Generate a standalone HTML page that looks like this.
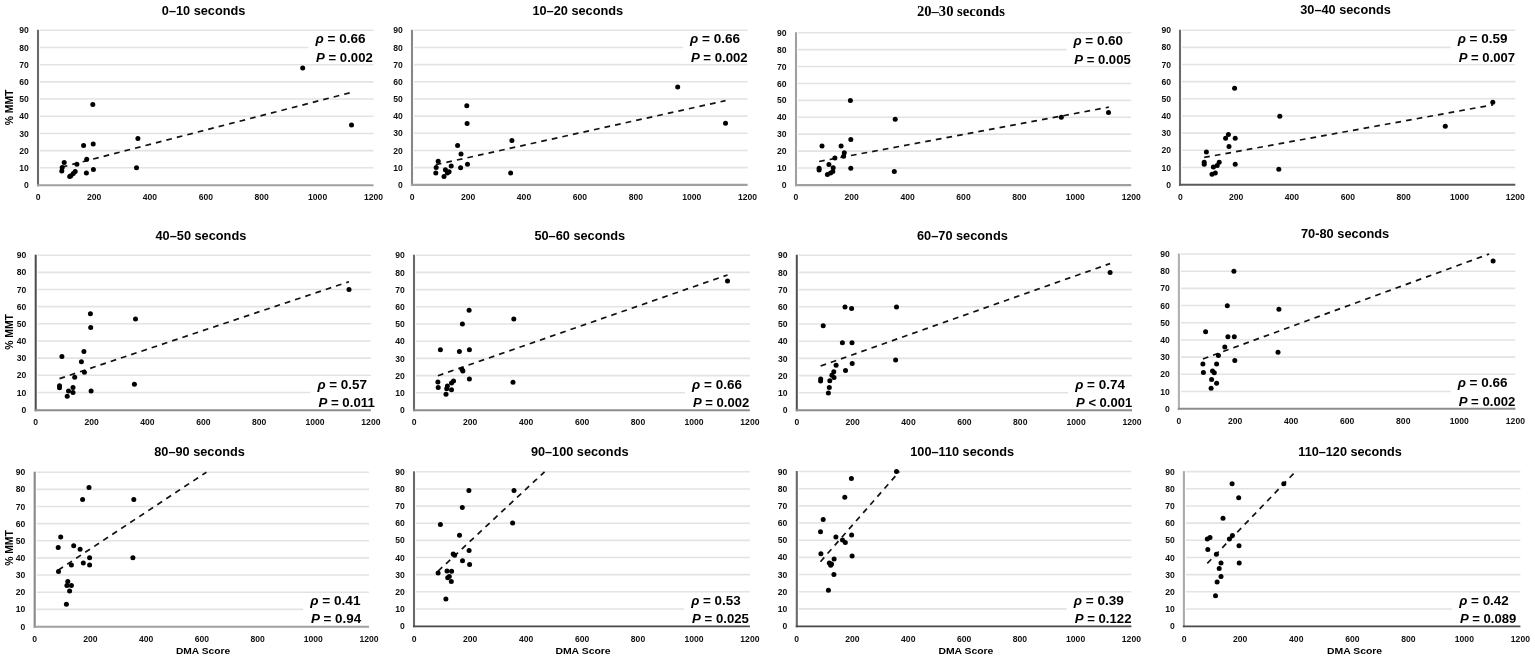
<!DOCTYPE html>
<html lang="en">
<head>
<meta charset="utf-8">
<title>% MMT vs DMA Score by 10-second interval</title>
<style>
html,body{margin:0;padding:0;background:#fff;}
body{width:1535px;height:659px;overflow:hidden;}
svg{display:block;}
text{font-family:'Liberation Sans', sans-serif;fill:#000;}
.tk{font-size:8.6px;font-weight:bold;fill:#111;}
.st{font-size:13.6px;font-weight:bold;}
.it{font-style:italic;}
.ttl{font-size:13.2px;font-weight:bold;}
.ser{font-family:'Liberation Serif', serif;font-size:14px;}
.al{font-size:10px;font-weight:bold;}
.dm{font-size:9.4px;font-weight:bold;}
circle{fill:#000;}
</style>
</head>
<body>
<svg width="1535" height="659" viewBox="0 0 1535 659">
<rect x="0" y="0" width="1535" height="659" fill="#ffffff"/>
<g><line x1="40" y1="167.81" x2="373.5" y2="167.81" stroke="#e3e3e3" stroke-width="1.6"/><line x1="40" y1="150.62" x2="373.5" y2="150.62" stroke="#e3e3e3" stroke-width="1.6"/><line x1="40" y1="133.43" x2="373.5" y2="133.43" stroke="#e3e3e3" stroke-width="1.6"/><line x1="40" y1="116.24" x2="373.5" y2="116.24" stroke="#e3e3e3" stroke-width="1.6"/><line x1="40" y1="99.06" x2="373.5" y2="99.06" stroke="#e3e3e3" stroke-width="1.6"/><line x1="40" y1="81.87" x2="373.5" y2="81.87" stroke="#e3e3e3" stroke-width="1.6"/><line x1="40" y1="64.68" x2="373.5" y2="64.68" stroke="#e3e3e3" stroke-width="1.6"/><line x1="40" y1="47.49" x2="373.5" y2="47.49" stroke="#e3e3e3" stroke-width="1.6"/><line x1="40" y1="30.3" x2="373.5" y2="30.3" stroke="#e3e3e3" stroke-width="1.6"/><rect x="308.5" y="32.7" width="66" height="31" fill="#fff"/><text x="28.9" y="188.1" text-anchor="end" class="tk">0</text><text x="28.9" y="170.91" text-anchor="end" class="tk">10</text><text x="28.9" y="153.72" text-anchor="end" class="tk">20</text><text x="28.9" y="136.53" text-anchor="end" class="tk">30</text><text x="28.9" y="119.34" text-anchor="end" class="tk">40</text><text x="28.9" y="102.16" text-anchor="end" class="tk">50</text><text x="28.9" y="84.97" text-anchor="end" class="tk">60</text><text x="28.9" y="67.78" text-anchor="end" class="tk">70</text><text x="28.9" y="50.59" text-anchor="end" class="tk">80</text><text x="28.9" y="33.4" text-anchor="end" class="tk">90</text><text x="38.2" y="200.4" text-anchor="middle" class="tk">0</text><text x="94.08" y="200.4" text-anchor="middle" class="tk">200</text><text x="149.97" y="200.4" text-anchor="middle" class="tk">400</text><text x="205.85" y="200.4" text-anchor="middle" class="tk">600</text><text x="261.73" y="200.4" text-anchor="middle" class="tk">800</text><text x="317.62" y="200.4" text-anchor="middle" class="tk">1000</text><text x="373.5" y="200.4" text-anchor="middle" class="tk">1200</text><line x1="61.8" y1="167.13" x2="351.5" y2="92.36" stroke="#111" stroke-width="1.7" stroke-dasharray="5.7 5.1"/><circle cx="92.8" cy="104.4" r="2.5"/><circle cx="137.9" cy="138.5" r="2.5"/><circle cx="136.5" cy="167.8" r="2.5"/><circle cx="93.2" cy="144" r="2.5"/><circle cx="83.6" cy="145.5" r="2.5"/><circle cx="86.7" cy="159.2" r="2.5"/><circle cx="76.9" cy="164.3" r="2.5"/><circle cx="64.2" cy="162.5" r="2.5"/><circle cx="62.2" cy="167.4" r="2.5"/><circle cx="61.8" cy="171.1" r="2.5"/><circle cx="93.4" cy="169.5" r="2.5"/><circle cx="86.4" cy="172.9" r="2.5"/><circle cx="75.2" cy="171.4" r="2.5"/><circle cx="73.3" cy="173.6" r="2.5"/><circle cx="70.9" cy="175.7" r="2.5"/><circle cx="69.7" cy="176.5" r="2.5"/><circle cx="302.7" cy="67.9" r="2.5"/><circle cx="351.5" cy="124.9" r="2.5"/><line x1="38" y1="29.8" x2="38" y2="186.25" stroke="#6a6a6a" stroke-width="2.1"/><line x1="36.95" y1="185.2" x2="373.5" y2="185.2" stroke="#a0a0a0" stroke-width="2.1"/><text x="315.5" y="43.2" class="st" textLength="50.1" lengthAdjust="spacingAndGlyphs"><tspan class="it">ρ</tspan> = 0.66</text><text x="316.1" y="61.7" class="st" textLength="56.7" lengthAdjust="spacingAndGlyphs"><tspan class="it">P</tspan> = 0.002</text><text x="161.8" y="14.5" class="ttl" textLength="83.6" lengthAdjust="spacingAndGlyphs">0–10 seconds</text><text transform="translate(13.4 125.2) rotate(-90)" class="al" textLength="35.5" lengthAdjust="spacingAndGlyphs">% MMT</text></g>
<g><line x1="414" y1="167.63" x2="747.6" y2="167.63" stroke="#e3e3e3" stroke-width="1.6"/><line x1="414" y1="150.47" x2="747.6" y2="150.47" stroke="#e3e3e3" stroke-width="1.6"/><line x1="414" y1="133.3" x2="747.6" y2="133.3" stroke="#e3e3e3" stroke-width="1.6"/><line x1="414" y1="116.13" x2="747.6" y2="116.13" stroke="#e3e3e3" stroke-width="1.6"/><line x1="414" y1="98.97" x2="747.6" y2="98.97" stroke="#e3e3e3" stroke-width="1.6"/><line x1="414" y1="81.8" x2="747.6" y2="81.8" stroke="#e3e3e3" stroke-width="1.6"/><line x1="414" y1="64.63" x2="747.6" y2="64.63" stroke="#e3e3e3" stroke-width="1.6"/><line x1="414" y1="47.47" x2="747.6" y2="47.47" stroke="#e3e3e3" stroke-width="1.6"/><line x1="414" y1="30.3" x2="747.6" y2="30.3" stroke="#e3e3e3" stroke-width="1.6"/><rect x="683" y="32.7" width="65.6" height="31" fill="#fff"/><text x="402.9" y="187.9" text-anchor="end" class="tk">0</text><text x="402.9" y="170.73" text-anchor="end" class="tk">10</text><text x="402.9" y="153.57" text-anchor="end" class="tk">20</text><text x="402.9" y="136.4" text-anchor="end" class="tk">30</text><text x="402.9" y="119.23" text-anchor="end" class="tk">40</text><text x="402.9" y="102.07" text-anchor="end" class="tk">50</text><text x="402.9" y="84.9" text-anchor="end" class="tk">60</text><text x="402.9" y="67.73" text-anchor="end" class="tk">70</text><text x="402.9" y="50.57" text-anchor="end" class="tk">80</text><text x="402.9" y="33.4" text-anchor="end" class="tk">90</text><text x="412.2" y="200.2" text-anchor="middle" class="tk">0</text><text x="468.1" y="200.2" text-anchor="middle" class="tk">200</text><text x="524" y="200.2" text-anchor="middle" class="tk">400</text><text x="579.9" y="200.2" text-anchor="middle" class="tk">600</text><text x="635.8" y="200.2" text-anchor="middle" class="tk">800</text><text x="691.7" y="200.2" text-anchor="middle" class="tk">1000</text><text x="747.6" y="200.2" text-anchor="middle" class="tk">1200</text><line x1="435.8" y1="164.7" x2="725.5" y2="100.67" stroke="#111" stroke-width="1.7" stroke-dasharray="5.7 5.1"/><circle cx="466.8" cy="105.8" r="2.5"/><circle cx="467.1" cy="123.4" r="2.5"/><circle cx="511.9" cy="140.6" r="2.5"/><circle cx="510.6" cy="173.1" r="2.5"/><circle cx="457.6" cy="145.6" r="2.5"/><circle cx="461" cy="154.1" r="2.5"/><circle cx="467.5" cy="164.3" r="2.5"/><circle cx="460.6" cy="167.8" r="2.5"/><circle cx="451.2" cy="166.1" r="2.5"/><circle cx="438.2" cy="161.2" r="2.5"/><circle cx="436.2" cy="167.5" r="2.5"/><circle cx="435.8" cy="173" r="2.5"/><circle cx="445.4" cy="169.7" r="2.5"/><circle cx="449.1" cy="171.8" r="2.5"/><circle cx="447.3" cy="172.9" r="2.5"/><circle cx="444" cy="176.6" r="2.5"/><circle cx="677.7" cy="87" r="2.5"/><circle cx="725.5" cy="123.3" r="2.5"/><line x1="412" y1="29.8" x2="412" y2="185.95" stroke="#888888" stroke-width="2.1"/><line x1="410.95" y1="184.9" x2="747.6" y2="184.9" stroke="#a0a0a0" stroke-width="2.1"/><text x="690" y="43.2" class="st" textLength="50.1" lengthAdjust="spacingAndGlyphs"><tspan class="it">ρ</tspan> = 0.66</text><text x="690.9" y="61.7" class="st" textLength="56.8" lengthAdjust="spacingAndGlyphs"><tspan class="it">P</tspan> = 0.002</text><text x="532.4" y="14.7" class="ttl" textLength="90.8" lengthAdjust="spacingAndGlyphs">10–20 seconds</text></g>
<g><line x1="798" y1="167.99" x2="1131.2" y2="167.99" stroke="#e3e3e3" stroke-width="1.6"/><line x1="798" y1="151.08" x2="1131.2" y2="151.08" stroke="#e3e3e3" stroke-width="1.6"/><line x1="798" y1="134.17" x2="1131.2" y2="134.17" stroke="#e3e3e3" stroke-width="1.6"/><line x1="798" y1="117.26" x2="1131.2" y2="117.26" stroke="#e3e3e3" stroke-width="1.6"/><line x1="798" y1="100.34" x2="1131.2" y2="100.34" stroke="#e3e3e3" stroke-width="1.6"/><line x1="798" y1="83.43" x2="1131.2" y2="83.43" stroke="#e3e3e3" stroke-width="1.6"/><line x1="798" y1="66.52" x2="1131.2" y2="66.52" stroke="#e3e3e3" stroke-width="1.6"/><line x1="798" y1="49.61" x2="1131.2" y2="49.61" stroke="#e3e3e3" stroke-width="1.6"/><line x1="798" y1="32.7" x2="1131.2" y2="32.7" stroke="#e3e3e3" stroke-width="1.6"/><rect x="1066.4" y="34.5" width="65.8" height="31.1" fill="#fff"/><text x="786.5" y="188" text-anchor="end" class="tk">0</text><text x="786.5" y="171.09" text-anchor="end" class="tk">10</text><text x="786.5" y="154.18" text-anchor="end" class="tk">20</text><text x="786.5" y="137.27" text-anchor="end" class="tk">30</text><text x="786.5" y="120.36" text-anchor="end" class="tk">40</text><text x="786.5" y="103.44" text-anchor="end" class="tk">50</text><text x="786.5" y="86.53" text-anchor="end" class="tk">60</text><text x="786.5" y="69.62" text-anchor="end" class="tk">70</text><text x="786.5" y="52.71" text-anchor="end" class="tk">80</text><text x="786.5" y="35.8" text-anchor="end" class="tk">90</text><text x="795.8" y="200.3" text-anchor="middle" class="tk">0</text><text x="851.7" y="200.3" text-anchor="middle" class="tk">200</text><text x="907.6" y="200.3" text-anchor="middle" class="tk">400</text><text x="963.5" y="200.3" text-anchor="middle" class="tk">600</text><text x="1019.4" y="200.3" text-anchor="middle" class="tk">800</text><text x="1075.3" y="200.3" text-anchor="middle" class="tk">1000</text><text x="1131.2" y="200.3" text-anchor="middle" class="tk">1200</text><line x1="819.1" y1="161.5" x2="1108.84" y2="107.17" stroke="#111" stroke-width="1.7" stroke-dasharray="5.7 5.1"/><circle cx="850.4" cy="100.5" r="2.5"/><circle cx="895.2" cy="119.2" r="2.5"/><circle cx="850.8" cy="139.4" r="2.5"/><circle cx="822" cy="146" r="2.5"/><circle cx="841.1" cy="146" r="2.5"/><circle cx="844.3" cy="152.7" r="2.5"/><circle cx="843.6" cy="156.3" r="2.5"/><circle cx="834.9" cy="157.9" r="2.5"/><circle cx="828.9" cy="164.5" r="2.5"/><circle cx="819.1" cy="168.2" r="2.5"/><circle cx="819.1" cy="170" r="2.5"/><circle cx="833.2" cy="167.8" r="2.5"/><circle cx="832.8" cy="171.4" r="2.5"/><circle cx="850.8" cy="168.2" r="2.5"/><circle cx="894.3" cy="171.4" r="2.5"/><circle cx="830.6" cy="172.9" r="2.5"/><circle cx="827.4" cy="174.6" r="2.5"/><circle cx="1061.3" cy="117.3" r="2.5"/><circle cx="1108.5" cy="112.5" r="2.5"/><line x1="796" y1="32.2" x2="796" y2="186.15" stroke="#a0a0a0" stroke-width="2.1"/><line x1="794.95" y1="185.1" x2="1131.2" y2="185.1" stroke="#a0a0a0" stroke-width="2.1"/><text x="1073.4" y="45" class="st" textLength="49.7" lengthAdjust="spacingAndGlyphs"><tspan class="it">ρ</tspan> = 0.60</text><text x="1074.3" y="63.6" class="st" textLength="56.4" lengthAdjust="spacingAndGlyphs"><tspan class="it">P</tspan> = 0.005</text><text x="917" y="16.2" class="ttl ser" textLength="87.9" lengthAdjust="spacingAndGlyphs">20–30 seconds</text></g>
<g><line x1="1182" y1="167.44" x2="1515.3" y2="167.44" stroke="#e3e3e3" stroke-width="1.6"/><line x1="1182" y1="150.29" x2="1515.3" y2="150.29" stroke="#e3e3e3" stroke-width="1.6"/><line x1="1182" y1="133.13" x2="1515.3" y2="133.13" stroke="#e3e3e3" stroke-width="1.6"/><line x1="1182" y1="115.98" x2="1515.3" y2="115.98" stroke="#e3e3e3" stroke-width="1.6"/><line x1="1182" y1="98.82" x2="1515.3" y2="98.82" stroke="#e3e3e3" stroke-width="1.6"/><line x1="1182" y1="81.67" x2="1515.3" y2="81.67" stroke="#e3e3e3" stroke-width="1.6"/><line x1="1182" y1="64.51" x2="1515.3" y2="64.51" stroke="#e3e3e3" stroke-width="1.6"/><line x1="1182" y1="47.36" x2="1515.3" y2="47.36" stroke="#e3e3e3" stroke-width="1.6"/><line x1="1182" y1="30.2" x2="1515.3" y2="30.2" stroke="#e3e3e3" stroke-width="1.6"/><rect x="1450.7" y="32.8" width="65.6" height="31" fill="#fff"/><text x="1171" y="187.7" text-anchor="end" class="tk">0</text><text x="1171" y="170.54" text-anchor="end" class="tk">10</text><text x="1171" y="153.39" text-anchor="end" class="tk">20</text><text x="1171" y="136.23" text-anchor="end" class="tk">30</text><text x="1171" y="119.08" text-anchor="end" class="tk">40</text><text x="1171" y="101.92" text-anchor="end" class="tk">50</text><text x="1171" y="84.77" text-anchor="end" class="tk">60</text><text x="1171" y="67.61" text-anchor="end" class="tk">70</text><text x="1171" y="50.46" text-anchor="end" class="tk">80</text><text x="1171" y="33.3" text-anchor="end" class="tk">90</text><text x="1180.3" y="200" text-anchor="middle" class="tk">0</text><text x="1236.13" y="200" text-anchor="middle" class="tk">200</text><text x="1291.97" y="200" text-anchor="middle" class="tk">400</text><text x="1347.8" y="200" text-anchor="middle" class="tk">600</text><text x="1403.63" y="200" text-anchor="middle" class="tk">800</text><text x="1459.47" y="200" text-anchor="middle" class="tk">1000</text><text x="1515.3" y="200" text-anchor="middle" class="tk">1200</text><line x1="1204.2" y1="157.45" x2="1492.97" y2="104.82" stroke="#111" stroke-width="1.7" stroke-dasharray="5.7 5.1"/><circle cx="1279.8" cy="116.2" r="2.5"/><circle cx="1228.4" cy="134.6" r="2.5"/><circle cx="1225.6" cy="138.3" r="2.5"/><circle cx="1235.2" cy="138.3" r="2.5"/><circle cx="1229" cy="146.6" r="2.5"/><circle cx="1206.4" cy="152" r="2.5"/><circle cx="1204.2" cy="162.3" r="2.5"/><circle cx="1204.2" cy="164.2" r="2.5"/><circle cx="1219.2" cy="162.3" r="2.5"/><circle cx="1217.2" cy="165.6" r="2.5"/><circle cx="1213.4" cy="167.1" r="2.5"/><circle cx="1215.3" cy="172.9" r="2.5"/><circle cx="1212" cy="174.3" r="2.5"/><circle cx="1235.2" cy="164.2" r="2.5"/><circle cx="1278.8" cy="169.2" r="2.5"/><circle cx="1234.6" cy="88.3" r="2.5"/><circle cx="1445.3" cy="126.2" r="2.5"/><circle cx="1492.8" cy="102.3" r="2.5"/><line x1="1180" y1="29.7" x2="1180" y2="185.8" stroke="#6a6a6a" stroke-width="2.1"/><line x1="1178.95" y1="184.8" x2="1515.3" y2="184.8" stroke="#5a5a5a" stroke-width="2.0"/><text x="1457.7" y="43.3" class="st" textLength="49.8" lengthAdjust="spacingAndGlyphs"><tspan class="it">ρ</tspan> = 0.59</text><text x="1458.7" y="61.8" class="st" textLength="56.4" lengthAdjust="spacingAndGlyphs"><tspan class="it">P</tspan> = 0.007</text><text x="1300.3" y="14.1" class="ttl" textLength="90.5" lengthAdjust="spacingAndGlyphs">30–40 seconds</text></g>
<g><line x1="37.7" y1="392.44" x2="370.9" y2="392.44" stroke="#e3e3e3" stroke-width="1.6"/><line x1="37.7" y1="375.29" x2="370.9" y2="375.29" stroke="#e3e3e3" stroke-width="1.6"/><line x1="37.7" y1="358.13" x2="370.9" y2="358.13" stroke="#e3e3e3" stroke-width="1.6"/><line x1="37.7" y1="340.98" x2="370.9" y2="340.98" stroke="#e3e3e3" stroke-width="1.6"/><line x1="37.7" y1="323.82" x2="370.9" y2="323.82" stroke="#e3e3e3" stroke-width="1.6"/><line x1="37.7" y1="306.67" x2="370.9" y2="306.67" stroke="#e3e3e3" stroke-width="1.6"/><line x1="37.7" y1="289.51" x2="370.9" y2="289.51" stroke="#e3e3e3" stroke-width="1.6"/><line x1="37.7" y1="272.36" x2="370.9" y2="272.36" stroke="#e3e3e3" stroke-width="1.6"/><line x1="37.7" y1="255.2" x2="370.9" y2="255.2" stroke="#e3e3e3" stroke-width="1.6"/><rect x="310.4" y="378.3" width="61.5" height="30.8" fill="#fff"/><text x="26.4" y="412.7" text-anchor="end" class="tk">0</text><text x="26.4" y="395.54" text-anchor="end" class="tk">10</text><text x="26.4" y="378.39" text-anchor="end" class="tk">20</text><text x="26.4" y="361.23" text-anchor="end" class="tk">30</text><text x="26.4" y="344.08" text-anchor="end" class="tk">40</text><text x="26.4" y="326.92" text-anchor="end" class="tk">50</text><text x="26.4" y="309.77" text-anchor="end" class="tk">60</text><text x="26.4" y="292.61" text-anchor="end" class="tk">70</text><text x="26.4" y="275.46" text-anchor="end" class="tk">80</text><text x="26.4" y="258.3" text-anchor="end" class="tk">90</text><text x="35.7" y="425" text-anchor="middle" class="tk">0</text><text x="91.57" y="425" text-anchor="middle" class="tk">200</text><text x="147.43" y="425" text-anchor="middle" class="tk">400</text><text x="203.3" y="425" text-anchor="middle" class="tk">600</text><text x="259.17" y="425" text-anchor="middle" class="tk">800</text><text x="315.03" y="425" text-anchor="middle" class="tk">1000</text><text x="370.9" y="425" text-anchor="middle" class="tk">1200</text><line x1="59.5" y1="378.63" x2="349" y2="281.7" stroke="#111" stroke-width="1.7" stroke-dasharray="5.7 5.1"/><circle cx="90.4" cy="313.7" r="2.5"/><circle cx="90.7" cy="327.4" r="2.5"/><circle cx="135.5" cy="318.9" r="2.5"/><circle cx="83.9" cy="351.6" r="2.5"/><circle cx="61.9" cy="356.6" r="2.5"/><circle cx="81.4" cy="361.7" r="2.5"/><circle cx="84.4" cy="372.3" r="2.5"/><circle cx="74.7" cy="377.3" r="2.5"/><circle cx="134.4" cy="384.3" r="2.5"/><circle cx="59.5" cy="385.8" r="2.5"/><circle cx="59.5" cy="387.8" r="2.5"/><circle cx="73" cy="387.4" r="2.5"/><circle cx="68.5" cy="390.9" r="2.5"/><circle cx="73" cy="392.6" r="2.5"/><circle cx="91.1" cy="390.9" r="2.5"/><circle cx="67.2" cy="396.3" r="2.5"/><circle cx="349" cy="289.6" r="2.5"/><line x1="35.7" y1="254.7" x2="35.7" y2="411.2" stroke="#4a4a4a" stroke-width="2.0"/><line x1="34.7" y1="410.2" x2="370.9" y2="410.2" stroke="#8c8c8c" stroke-width="2.0"/><text x="317.4" y="388.8" class="st" textLength="49.5" lengthAdjust="spacingAndGlyphs"><tspan class="it">ρ</tspan> = 0.57</text><text x="318.4" y="407.1" class="st" textLength="56.4" lengthAdjust="spacingAndGlyphs"><tspan class="it">P</tspan> = 0.011</text><text x="155.5" y="239.6" class="ttl" textLength="90.8" lengthAdjust="spacingAndGlyphs">40–50 seconds</text><text transform="translate(13.4 349.7) rotate(-90)" class="al" textLength="35.5" lengthAdjust="spacingAndGlyphs">% MMT</text></g>
<g><line x1="416" y1="392.8" x2="749.9" y2="392.8" stroke="#e3e3e3" stroke-width="1.6"/><line x1="416" y1="375.6" x2="749.9" y2="375.6" stroke="#e3e3e3" stroke-width="1.6"/><line x1="416" y1="358.4" x2="749.9" y2="358.4" stroke="#e3e3e3" stroke-width="1.6"/><line x1="416" y1="341.2" x2="749.9" y2="341.2" stroke="#e3e3e3" stroke-width="1.6"/><line x1="416" y1="324" x2="749.9" y2="324" stroke="#e3e3e3" stroke-width="1.6"/><line x1="416" y1="306.8" x2="749.9" y2="306.8" stroke="#e3e3e3" stroke-width="1.6"/><line x1="416" y1="289.6" x2="749.9" y2="289.6" stroke="#e3e3e3" stroke-width="1.6"/><line x1="416" y1="272.4" x2="749.9" y2="272.4" stroke="#e3e3e3" stroke-width="1.6"/><line x1="416" y1="255.2" x2="749.9" y2="255.2" stroke="#e3e3e3" stroke-width="1.6"/><rect x="685.1" y="378.3" width="65.8" height="30.9" fill="#fff"/><text x="404.9" y="413.1" text-anchor="end" class="tk">0</text><text x="404.9" y="395.9" text-anchor="end" class="tk">10</text><text x="404.9" y="378.7" text-anchor="end" class="tk">20</text><text x="404.9" y="361.5" text-anchor="end" class="tk">30</text><text x="404.9" y="344.3" text-anchor="end" class="tk">40</text><text x="404.9" y="327.1" text-anchor="end" class="tk">50</text><text x="404.9" y="309.9" text-anchor="end" class="tk">60</text><text x="404.9" y="292.7" text-anchor="end" class="tk">70</text><text x="404.9" y="275.5" text-anchor="end" class="tk">80</text><text x="404.9" y="258.3" text-anchor="end" class="tk">90</text><text x="414.2" y="425.4" text-anchor="middle" class="tk">0</text><text x="470.15" y="425.4" text-anchor="middle" class="tk">200</text><text x="526.1" y="425.4" text-anchor="middle" class="tk">400</text><text x="582.05" y="425.4" text-anchor="middle" class="tk">600</text><text x="638" y="425.4" text-anchor="middle" class="tk">800</text><text x="693.95" y="425.4" text-anchor="middle" class="tk">1000</text><text x="749.9" y="425.4" text-anchor="middle" class="tk">1200</text><line x1="437.9" y1="375.7" x2="727.52" y2="274.93" stroke="#111" stroke-width="1.7" stroke-dasharray="5.7 5.1"/><circle cx="469.1" cy="310.3" r="2.5"/><circle cx="462.4" cy="324" r="2.5"/><circle cx="513.8" cy="318.9" r="2.5"/><circle cx="440.4" cy="349.7" r="2.5"/><circle cx="459.4" cy="351.6" r="2.5"/><circle cx="469.4" cy="349.7" r="2.5"/><circle cx="461.9" cy="369.2" r="2.5"/><circle cx="462.9" cy="370.9" r="2.5"/><circle cx="469.4" cy="378.9" r="2.5"/><circle cx="437.9" cy="382.1" r="2.5"/><circle cx="438.2" cy="387.4" r="2.5"/><circle cx="513" cy="382.3" r="2.5"/><circle cx="453.5" cy="380.9" r="2.5"/><circle cx="451.5" cy="382.9" r="2.5"/><circle cx="447.4" cy="385.9" r="2.5"/><circle cx="446.7" cy="388.8" r="2.5"/><circle cx="451.5" cy="389.8" r="2.5"/><circle cx="446" cy="394.3" r="2.5"/><circle cx="727.5" cy="281" r="2.5"/><line x1="414" y1="254.7" x2="414" y2="411.2" stroke="#6a6a6a" stroke-width="2.1"/><line x1="412.95" y1="410.2" x2="749.9" y2="410.2" stroke="#8c8c8c" stroke-width="2.0"/><text x="692.1" y="388.8" class="st" textLength="49.8" lengthAdjust="spacingAndGlyphs"><tspan class="it">ρ</tspan> = 0.66</text><text x="693" y="407.2" class="st" textLength="56.2" lengthAdjust="spacingAndGlyphs"><tspan class="it">P</tspan> = 0.002</text><text x="534.4" y="239.6" class="ttl" textLength="90.8" lengthAdjust="spacingAndGlyphs">50–60 seconds</text></g>
<g><line x1="798.8" y1="392.8" x2="1132" y2="392.8" stroke="#e3e3e3" stroke-width="1.6"/><line x1="798.8" y1="375.6" x2="1132" y2="375.6" stroke="#e3e3e3" stroke-width="1.6"/><line x1="798.8" y1="358.4" x2="1132" y2="358.4" stroke="#e3e3e3" stroke-width="1.6"/><line x1="798.8" y1="341.2" x2="1132" y2="341.2" stroke="#e3e3e3" stroke-width="1.6"/><line x1="798.8" y1="324" x2="1132" y2="324" stroke="#e3e3e3" stroke-width="1.6"/><line x1="798.8" y1="306.8" x2="1132" y2="306.8" stroke="#e3e3e3" stroke-width="1.6"/><line x1="798.8" y1="289.6" x2="1132" y2="289.6" stroke="#e3e3e3" stroke-width="1.6"/><line x1="798.8" y1="272.4" x2="1132" y2="272.4" stroke="#e3e3e3" stroke-width="1.6"/><line x1="798.8" y1="255.2" x2="1132" y2="255.2" stroke="#e3e3e3" stroke-width="1.6"/><rect x="1068.2" y="378.3" width="64.8" height="30.7" fill="#fff"/><text x="787.5" y="413.1" text-anchor="end" class="tk">0</text><text x="787.5" y="395.9" text-anchor="end" class="tk">10</text><text x="787.5" y="378.7" text-anchor="end" class="tk">20</text><text x="787.5" y="361.5" text-anchor="end" class="tk">30</text><text x="787.5" y="344.3" text-anchor="end" class="tk">40</text><text x="787.5" y="327.1" text-anchor="end" class="tk">50</text><text x="787.5" y="309.9" text-anchor="end" class="tk">60</text><text x="787.5" y="292.7" text-anchor="end" class="tk">70</text><text x="787.5" y="275.5" text-anchor="end" class="tk">80</text><text x="787.5" y="258.3" text-anchor="end" class="tk">90</text><text x="796.8" y="425.4" text-anchor="middle" class="tk">0</text><text x="852.67" y="425.4" text-anchor="middle" class="tk">200</text><text x="908.53" y="425.4" text-anchor="middle" class="tk">400</text><text x="964.4" y="425.4" text-anchor="middle" class="tk">600</text><text x="1020.27" y="425.4" text-anchor="middle" class="tk">800</text><text x="1076.13" y="425.4" text-anchor="middle" class="tk">1000</text><text x="1132" y="425.4" text-anchor="middle" class="tk">1200</text><line x1="820.6" y1="366.05" x2="1110.1" y2="263.59" stroke="#111" stroke-width="1.7" stroke-dasharray="5.7 5.1"/><circle cx="845" cy="306.9" r="2.5"/><circle cx="851.6" cy="308.4" r="2.5"/><circle cx="896.5" cy="306.9" r="2.5"/><circle cx="823.2" cy="325.7" r="2.5"/><circle cx="842.4" cy="342.8" r="2.5"/><circle cx="852" cy="342.8" r="2.5"/><circle cx="895.6" cy="359.9" r="2.5"/><circle cx="852.2" cy="363.6" r="2.5"/><circle cx="836.1" cy="365.3" r="2.5"/><circle cx="845.5" cy="370.6" r="2.5"/><circle cx="833.8" cy="371.8" r="2.5"/><circle cx="831.9" cy="375.3" r="2.5"/><circle cx="834" cy="377.4" r="2.5"/><circle cx="820.7" cy="379.1" r="2.5"/><circle cx="820.6" cy="380.9" r="2.5"/><circle cx="829.8" cy="380.7" r="2.5"/><circle cx="829.3" cy="387.5" r="2.5"/><circle cx="828.4" cy="392.9" r="2.5"/><circle cx="1110.1" cy="272.4" r="2.5"/><line x1="796.8" y1="254.7" x2="796.8" y2="411.2" stroke="#505050" stroke-width="2.0"/><line x1="795.8" y1="410.2" x2="1132" y2="410.2" stroke="#8c8c8c" stroke-width="2.0"/><text x="1075.2" y="388.8" class="st" textLength="49.7" lengthAdjust="spacingAndGlyphs"><tspan class="it">ρ</tspan> = 0.74</text><text x="1076.1" y="407" class="st" textLength="56.1" lengthAdjust="spacingAndGlyphs"><tspan class="it">P</tspan> < 0.001</text><text x="917" y="239.6" class="ttl" textLength="90.8" lengthAdjust="spacingAndGlyphs">60–70 seconds</text></g>
<g><line x1="1180.9" y1="391.51" x2="1515.4" y2="391.51" stroke="#e3e3e3" stroke-width="1.6"/><line x1="1180.9" y1="374.32" x2="1515.4" y2="374.32" stroke="#e3e3e3" stroke-width="1.6"/><line x1="1180.9" y1="357.13" x2="1515.4" y2="357.13" stroke="#e3e3e3" stroke-width="1.6"/><line x1="1180.9" y1="339.94" x2="1515.4" y2="339.94" stroke="#e3e3e3" stroke-width="1.6"/><line x1="1180.9" y1="322.76" x2="1515.4" y2="322.76" stroke="#e3e3e3" stroke-width="1.6"/><line x1="1180.9" y1="305.57" x2="1515.4" y2="305.57" stroke="#e3e3e3" stroke-width="1.6"/><line x1="1180.9" y1="288.38" x2="1515.4" y2="288.38" stroke="#e3e3e3" stroke-width="1.6"/><line x1="1180.9" y1="271.19" x2="1515.4" y2="271.19" stroke="#e3e3e3" stroke-width="1.6"/><line x1="1180.9" y1="254" x2="1515.4" y2="254" stroke="#e3e3e3" stroke-width="1.6"/><rect x="1450.7" y="376.5" width="65.7" height="31" fill="#fff"/><text x="1169.7" y="411.8" text-anchor="end" class="tk">0</text><text x="1169.7" y="394.61" text-anchor="end" class="tk">10</text><text x="1169.7" y="377.42" text-anchor="end" class="tk">20</text><text x="1169.7" y="360.23" text-anchor="end" class="tk">30</text><text x="1169.7" y="343.04" text-anchor="end" class="tk">40</text><text x="1169.7" y="325.86" text-anchor="end" class="tk">50</text><text x="1169.7" y="308.67" text-anchor="end" class="tk">60</text><text x="1169.7" y="291.48" text-anchor="end" class="tk">70</text><text x="1169.7" y="274.29" text-anchor="end" class="tk">80</text><text x="1169.7" y="257.1" text-anchor="end" class="tk">90</text><text x="1179" y="424.1" text-anchor="middle" class="tk">0</text><text x="1235.07" y="424.1" text-anchor="middle" class="tk">200</text><text x="1291.13" y="424.1" text-anchor="middle" class="tk">400</text><text x="1347.2" y="424.1" text-anchor="middle" class="tk">600</text><text x="1403.27" y="424.1" text-anchor="middle" class="tk">800</text><text x="1459.33" y="424.1" text-anchor="middle" class="tk">1000</text><text x="1515.4" y="424.1" text-anchor="middle" class="tk">1200</text><line x1="1202.9" y1="358.97" x2="1489.15" y2="254" stroke="#111" stroke-width="1.7" stroke-dasharray="5.7 5.1"/><circle cx="1233.9" cy="271.2" r="2.5"/><circle cx="1227.3" cy="305.8" r="2.5"/><circle cx="1278.9" cy="309.2" r="2.5"/><circle cx="1205.6" cy="331.7" r="2.5"/><circle cx="1227.9" cy="336.7" r="2.5"/><circle cx="1234.3" cy="336.7" r="2.5"/><circle cx="1224.8" cy="347" r="2.5"/><circle cx="1278" cy="352.2" r="2.5"/><circle cx="1218.4" cy="355.4" r="2.5"/><circle cx="1234.8" cy="360.6" r="2.5"/><circle cx="1202.9" cy="364" r="2.5"/><circle cx="1216.6" cy="364" r="2.5"/><circle cx="1203.4" cy="372.5" r="2.5"/><circle cx="1212.5" cy="371.1" r="2.5"/><circle cx="1214.3" cy="372.7" r="2.5"/><circle cx="1211.6" cy="379.5" r="2.5"/><circle cx="1216.6" cy="383.2" r="2.5"/><circle cx="1211.1" cy="388.2" r="2.5"/><circle cx="1493.1" cy="260.9" r="2.5"/><line x1="1178.9" y1="253.5" x2="1178.9" y2="409.8" stroke="#b0b0b0" stroke-width="2.1"/><line x1="1177.85" y1="408.8" x2="1515.4" y2="408.8" stroke="#8c8c8c" stroke-width="2.0"/><text x="1457.7" y="387" class="st" textLength="49.8" lengthAdjust="spacingAndGlyphs"><tspan class="it">ρ</tspan> = 0.66</text><text x="1458.7" y="405.5" class="st" textLength="56.6" lengthAdjust="spacingAndGlyphs"><tspan class="it">P</tspan> = 0.002</text><text x="1301" y="237.9" class="ttl" textLength="88.2" lengthAdjust="spacingAndGlyphs">70-80 seconds</text></g>
<g><line x1="36.7" y1="609.36" x2="369" y2="609.36" stroke="#e3e3e3" stroke-width="1.6"/><line x1="36.7" y1="592.21" x2="369" y2="592.21" stroke="#e3e3e3" stroke-width="1.6"/><line x1="36.7" y1="575.07" x2="369" y2="575.07" stroke="#e3e3e3" stroke-width="1.6"/><line x1="36.7" y1="557.92" x2="369" y2="557.92" stroke="#e3e3e3" stroke-width="1.6"/><line x1="36.7" y1="540.78" x2="369" y2="540.78" stroke="#e3e3e3" stroke-width="1.6"/><line x1="36.7" y1="523.63" x2="369" y2="523.63" stroke="#e3e3e3" stroke-width="1.6"/><line x1="36.7" y1="506.49" x2="369" y2="506.49" stroke="#e3e3e3" stroke-width="1.6"/><line x1="36.7" y1="489.34" x2="369" y2="489.34" stroke="#e3e3e3" stroke-width="1.6"/><line x1="36.7" y1="472.2" x2="369" y2="472.2" stroke="#e3e3e3" stroke-width="1.6"/><rect x="303.2" y="594.8" width="66.8" height="30.3" fill="#fff"/><text x="25.4" y="629.6" text-anchor="end" class="tk">0</text><text x="25.4" y="612.46" text-anchor="end" class="tk">10</text><text x="25.4" y="595.31" text-anchor="end" class="tk">20</text><text x="25.4" y="578.17" text-anchor="end" class="tk">30</text><text x="25.4" y="561.02" text-anchor="end" class="tk">40</text><text x="25.4" y="543.88" text-anchor="end" class="tk">50</text><text x="25.4" y="526.73" text-anchor="end" class="tk">60</text><text x="25.4" y="509.59" text-anchor="end" class="tk">70</text><text x="25.4" y="492.44" text-anchor="end" class="tk">80</text><text x="25.4" y="475.3" text-anchor="end" class="tk">90</text><text x="34.7" y="641.9" text-anchor="middle" class="tk">0</text><text x="90.42" y="641.9" text-anchor="middle" class="tk">200</text><text x="146.13" y="641.9" text-anchor="middle" class="tk">400</text><text x="201.85" y="641.9" text-anchor="middle" class="tk">600</text><text x="257.57" y="641.9" text-anchor="middle" class="tk">800</text><text x="313.28" y="641.9" text-anchor="middle" class="tk">1000</text><text x="369" y="641.9" text-anchor="middle" class="tk">1200</text><line x1="58.2" y1="570.2" x2="206.4" y2="472.2" stroke="#111" stroke-width="1.7" stroke-dasharray="5.7 5.1"/><circle cx="89" cy="487.5" r="2.5"/><circle cx="82.6" cy="499.4" r="2.5"/><circle cx="133.8" cy="499.4" r="2.5"/><circle cx="60.7" cy="536.9" r="2.5"/><circle cx="58.2" cy="547.6" r="2.5"/><circle cx="73.7" cy="545.8" r="2.5"/><circle cx="80.1" cy="549.2" r="2.5"/><circle cx="89.6" cy="557.7" r="2.5"/><circle cx="132.9" cy="557.7" r="2.5"/><circle cx="83.3" cy="563.1" r="2.5"/><circle cx="89.6" cy="564.9" r="2.5"/><circle cx="71.4" cy="564.9" r="2.5"/><circle cx="58.5" cy="571.5" r="2.5"/><circle cx="67.8" cy="581.6" r="2.5"/><circle cx="66.9" cy="585.4" r="2.5"/><circle cx="71.4" cy="585.4" r="2.5"/><circle cx="69.6" cy="590.9" r="2.5"/><circle cx="66.4" cy="604.3" r="2.5"/><line x1="34.7" y1="471.7" x2="34.7" y2="627.85" stroke="#888888" stroke-width="2.1"/><line x1="33.65" y1="626.8" x2="369" y2="626.8" stroke="#a0a0a0" stroke-width="2.1"/><text x="310.2" y="605.3" class="st" textLength="50.3" lengthAdjust="spacingAndGlyphs"><tspan class="it">ρ</tspan> = 0.41</text><text x="310.9" y="623.1" class="st" textLength="50.3" lengthAdjust="spacingAndGlyphs"><tspan class="it">P</tspan> = 0.94</text><text x="154.3" y="455.9" class="ttl" textLength="90.5" lengthAdjust="spacingAndGlyphs">80–90 seconds</text><text transform="translate(13.4 565.75) rotate(-90)" class="al" textLength="35.5" lengthAdjust="spacingAndGlyphs">% MMT</text><text x="175.9" y="653.9" class="dm" textLength="54.2" lengthAdjust="spacingAndGlyphs">DMA Score</text></g>
<g><line x1="416" y1="608.96" x2="749.9" y2="608.96" stroke="#e3e3e3" stroke-width="1.6"/><line x1="416" y1="591.81" x2="749.9" y2="591.81" stroke="#e3e3e3" stroke-width="1.6"/><line x1="416" y1="574.67" x2="749.9" y2="574.67" stroke="#e3e3e3" stroke-width="1.6"/><line x1="416" y1="557.52" x2="749.9" y2="557.52" stroke="#e3e3e3" stroke-width="1.6"/><line x1="416" y1="540.38" x2="749.9" y2="540.38" stroke="#e3e3e3" stroke-width="1.6"/><line x1="416" y1="523.23" x2="749.9" y2="523.23" stroke="#e3e3e3" stroke-width="1.6"/><line x1="416" y1="506.09" x2="749.9" y2="506.09" stroke="#e3e3e3" stroke-width="1.6"/><line x1="416" y1="488.94" x2="749.9" y2="488.94" stroke="#e3e3e3" stroke-width="1.6"/><line x1="416" y1="471.8" x2="749.9" y2="471.8" stroke="#e3e3e3" stroke-width="1.6"/><rect x="684.2" y="594.5" width="66.7" height="30.9" fill="#fff"/><text x="404.9" y="629.2" text-anchor="end" class="tk">0</text><text x="404.9" y="612.06" text-anchor="end" class="tk">10</text><text x="404.9" y="594.91" text-anchor="end" class="tk">20</text><text x="404.9" y="577.77" text-anchor="end" class="tk">30</text><text x="404.9" y="560.62" text-anchor="end" class="tk">40</text><text x="404.9" y="543.48" text-anchor="end" class="tk">50</text><text x="404.9" y="526.33" text-anchor="end" class="tk">60</text><text x="404.9" y="509.19" text-anchor="end" class="tk">70</text><text x="404.9" y="492.04" text-anchor="end" class="tk">80</text><text x="404.9" y="474.9" text-anchor="end" class="tk">90</text><text x="414.2" y="641.5" text-anchor="middle" class="tk">0</text><text x="470.15" y="641.5" text-anchor="middle" class="tk">200</text><text x="526.1" y="641.5" text-anchor="middle" class="tk">400</text><text x="582.05" y="641.5" text-anchor="middle" class="tk">600</text><text x="638" y="641.5" text-anchor="middle" class="tk">800</text><text x="693.95" y="641.5" text-anchor="middle" class="tk">1000</text><text x="749.9" y="641.5" text-anchor="middle" class="tk">1200</text><line x1="438.1" y1="571.13" x2="544.56" y2="471.8" stroke="#111" stroke-width="1.7" stroke-dasharray="5.7 5.1"/><circle cx="468.9" cy="490.5" r="2.5"/><circle cx="514" cy="490.5" r="2.5"/><circle cx="462.3" cy="507.6" r="2.5"/><circle cx="440.4" cy="524.6" r="2.5"/><circle cx="512.6" cy="523" r="2.5"/><circle cx="459.5" cy="535.3" r="2.5"/><circle cx="469.1" cy="550.6" r="2.5"/><circle cx="453.2" cy="554" r="2.5"/><circle cx="454.6" cy="555.2" r="2.5"/><circle cx="462.5" cy="560.8" r="2.5"/><circle cx="469.6" cy="564.5" r="2.5"/><circle cx="438.1" cy="572.9" r="2.5"/><circle cx="447" cy="571.1" r="2.5"/><circle cx="451.6" cy="571.3" r="2.5"/><circle cx="447.7" cy="577.7" r="2.5"/><circle cx="449.3" cy="576.5" r="2.5"/><circle cx="451.3" cy="581.6" r="2.5"/><circle cx="445.9" cy="598.9" r="2.5"/><line x1="414" y1="471.3" x2="414" y2="627.25" stroke="#6a6a6a" stroke-width="2.1"/><line x1="412.95" y1="626.4" x2="749.9" y2="626.4" stroke="#4a4a4a" stroke-width="1.7"/><text x="691.2" y="605" class="st" textLength="49.5" lengthAdjust="spacingAndGlyphs"><tspan class="it">ρ</tspan> = 0.53</text><text x="692.1" y="623.4" class="st" textLength="56.8" lengthAdjust="spacingAndGlyphs"><tspan class="it">P</tspan> = 0.025</text><text x="530.9" y="455.6" class="ttl" textLength="97.6" lengthAdjust="spacingAndGlyphs">90–100 seconds</text><text x="555.4" y="653.9" class="dm" textLength="55.3" lengthAdjust="spacingAndGlyphs">DMA Score</text></g>
<g><line x1="798.8" y1="608.92" x2="1131.4" y2="608.92" stroke="#e3e3e3" stroke-width="1.6"/><line x1="798.8" y1="591.74" x2="1131.4" y2="591.74" stroke="#e3e3e3" stroke-width="1.6"/><line x1="798.8" y1="574.57" x2="1131.4" y2="574.57" stroke="#e3e3e3" stroke-width="1.6"/><line x1="798.8" y1="557.39" x2="1131.4" y2="557.39" stroke="#e3e3e3" stroke-width="1.6"/><line x1="798.8" y1="540.21" x2="1131.4" y2="540.21" stroke="#e3e3e3" stroke-width="1.6"/><line x1="798.8" y1="523.03" x2="1131.4" y2="523.03" stroke="#e3e3e3" stroke-width="1.6"/><line x1="798.8" y1="505.86" x2="1131.4" y2="505.86" stroke="#e3e3e3" stroke-width="1.6"/><line x1="798.8" y1="488.68" x2="1131.4" y2="488.68" stroke="#e3e3e3" stroke-width="1.6"/><line x1="798.8" y1="471.5" x2="1131.4" y2="471.5" stroke="#e3e3e3" stroke-width="1.6"/><rect x="1066.8" y="594.5" width="65.6" height="30.7" fill="#fff"/><text x="787.4" y="629.2" text-anchor="end" class="tk">0</text><text x="787.4" y="612.02" text-anchor="end" class="tk">10</text><text x="787.4" y="594.84" text-anchor="end" class="tk">20</text><text x="787.4" y="577.67" text-anchor="end" class="tk">30</text><text x="787.4" y="560.49" text-anchor="end" class="tk">40</text><text x="787.4" y="543.31" text-anchor="end" class="tk">50</text><text x="787.4" y="526.13" text-anchor="end" class="tk">60</text><text x="787.4" y="508.96" text-anchor="end" class="tk">70</text><text x="787.4" y="491.78" text-anchor="end" class="tk">80</text><text x="787.4" y="474.6" text-anchor="end" class="tk">90</text><text x="796.7" y="641.5" text-anchor="middle" class="tk">0</text><text x="852.48" y="641.5" text-anchor="middle" class="tk">200</text><text x="908.27" y="641.5" text-anchor="middle" class="tk">400</text><text x="964.05" y="641.5" text-anchor="middle" class="tk">600</text><text x="1019.83" y="641.5" text-anchor="middle" class="tk">800</text><text x="1075.62" y="641.5" text-anchor="middle" class="tk">1000</text><text x="1131.4" y="641.5" text-anchor="middle" class="tk">1200</text><line x1="820.5" y1="561.69" x2="899.41" y2="471.5" stroke="#111" stroke-width="1.7" stroke-dasharray="5.7 5.1"/><circle cx="896.5" cy="471.4" r="2.5"/><circle cx="851.4" cy="478.4" r="2.5"/><circle cx="844.8" cy="497.3" r="2.5"/><circle cx="823.2" cy="519.4" r="2.5"/><circle cx="820.5" cy="531.7" r="2.5"/><circle cx="835.9" cy="537" r="2.5"/><circle cx="851.6" cy="535.1" r="2.5"/><circle cx="842.5" cy="540.1" r="2.5"/><circle cx="845.3" cy="542.4" r="2.5"/><circle cx="820.9" cy="553.8" r="2.5"/><circle cx="852.1" cy="556.1" r="2.5"/><circle cx="834.1" cy="559" r="2.5"/><circle cx="829.3" cy="562.9" r="2.5"/><circle cx="830.7" cy="565.2" r="2.5"/><circle cx="831.5" cy="564" r="2.5"/><circle cx="833.9" cy="574.5" r="2.5"/><circle cx="828.4" cy="590.2" r="2.5"/><line x1="796.8" y1="471" x2="796.8" y2="627.25" stroke="#6a6a6a" stroke-width="2.1"/><line x1="795.75" y1="626.4" x2="1131.4" y2="626.4" stroke="#4a4a4a" stroke-width="1.7"/><text x="1073.8" y="605" class="st" textLength="50.1" lengthAdjust="spacingAndGlyphs"><tspan class="it">ρ</tspan> = 0.39</text><text x="1074.7" y="623.2" class="st" textLength="56.8" lengthAdjust="spacingAndGlyphs"><tspan class="it">P</tspan> = 0.122</text><text x="910.3" y="455.6" class="ttl" textLength="103.9" lengthAdjust="spacingAndGlyphs">100–110 seconds</text><text x="938.4" y="653.9" class="dm" textLength="55" lengthAdjust="spacingAndGlyphs">DMA Score</text></g>
<g><line x1="1185.9" y1="608.93" x2="1520.4" y2="608.93" stroke="#e3e3e3" stroke-width="1.6"/><line x1="1185.9" y1="591.77" x2="1520.4" y2="591.77" stroke="#e3e3e3" stroke-width="1.6"/><line x1="1185.9" y1="574.6" x2="1520.4" y2="574.6" stroke="#e3e3e3" stroke-width="1.6"/><line x1="1185.9" y1="557.43" x2="1520.4" y2="557.43" stroke="#e3e3e3" stroke-width="1.6"/><line x1="1185.9" y1="540.27" x2="1520.4" y2="540.27" stroke="#e3e3e3" stroke-width="1.6"/><line x1="1185.9" y1="523.1" x2="1520.4" y2="523.1" stroke="#e3e3e3" stroke-width="1.6"/><line x1="1185.9" y1="505.93" x2="1520.4" y2="505.93" stroke="#e3e3e3" stroke-width="1.6"/><line x1="1185.9" y1="488.77" x2="1520.4" y2="488.77" stroke="#e3e3e3" stroke-width="1.6"/><line x1="1185.9" y1="471.6" x2="1520.4" y2="471.6" stroke="#e3e3e3" stroke-width="1.6"/><rect x="1452.3" y="594.3" width="69.1" height="30.5" fill="#fff"/><text x="1174.9" y="629.2" text-anchor="end" class="tk">0</text><text x="1174.9" y="612.03" text-anchor="end" class="tk">10</text><text x="1174.9" y="594.87" text-anchor="end" class="tk">20</text><text x="1174.9" y="577.7" text-anchor="end" class="tk">30</text><text x="1174.9" y="560.53" text-anchor="end" class="tk">40</text><text x="1174.9" y="543.37" text-anchor="end" class="tk">50</text><text x="1174.9" y="526.2" text-anchor="end" class="tk">60</text><text x="1174.9" y="509.03" text-anchor="end" class="tk">70</text><text x="1174.9" y="491.87" text-anchor="end" class="tk">80</text><text x="1174.9" y="474.7" text-anchor="end" class="tk">90</text><text x="1184.2" y="641.5" text-anchor="middle" class="tk">0</text><text x="1240.23" y="641.5" text-anchor="middle" class="tk">200</text><text x="1296.27" y="641.5" text-anchor="middle" class="tk">400</text><text x="1352.3" y="641.5" text-anchor="middle" class="tk">600</text><text x="1408.33" y="641.5" text-anchor="middle" class="tk">800</text><text x="1464.37" y="641.5" text-anchor="middle" class="tk">1000</text><text x="1520.4" y="641.5" text-anchor="middle" class="tk">1200</text><line x1="1207.3" y1="563.39" x2="1295.51" y2="471.6" stroke="#111" stroke-width="1.7" stroke-dasharray="5.7 5.1"/><circle cx="1232.1" cy="483.7" r="2.5"/><circle cx="1283.8" cy="483.7" r="2.5"/><circle cx="1238.7" cy="497.8" r="2.5"/><circle cx="1223" cy="518.3" r="2.5"/><circle cx="1210" cy="537.4" r="2.5"/><circle cx="1207.3" cy="539" r="2.5"/><circle cx="1232.4" cy="535.6" r="2.5"/><circle cx="1229.4" cy="539" r="2.5"/><circle cx="1239" cy="545.8" r="2.5"/><circle cx="1207.8" cy="549.5" r="2.5"/><circle cx="1216.4" cy="554.3" r="2.5"/><circle cx="1221" cy="563.1" r="2.5"/><circle cx="1239.2" cy="563.1" r="2.5"/><circle cx="1219.2" cy="568.4" r="2.5"/><circle cx="1221" cy="576.6" r="2.5"/><circle cx="1217.1" cy="582" r="2.5"/><circle cx="1215.5" cy="595.7" r="2.5"/><line x1="1183.9" y1="471.1" x2="1183.9" y2="627.25" stroke="#aaaaaa" stroke-width="2.1"/><line x1="1182.85" y1="626.4" x2="1520.4" y2="626.4" stroke="#4a4a4a" stroke-width="1.7"/><text x="1459.3" y="604.8" class="st" textLength="49.4" lengthAdjust="spacingAndGlyphs"><tspan class="it">ρ</tspan> = 0.42</text><text x="1459.9" y="622.8" class="st" textLength="56.5" lengthAdjust="spacingAndGlyphs"><tspan class="it">P</tspan> = 0.089</text><text x="1298.3" y="455.6" class="ttl" textLength="103.6" lengthAdjust="spacingAndGlyphs">110–120 seconds</text><text x="1327.1" y="653.9" class="dm" textLength="55" lengthAdjust="spacingAndGlyphs">DMA Score</text></g>
</svg>
</body>
</html>
